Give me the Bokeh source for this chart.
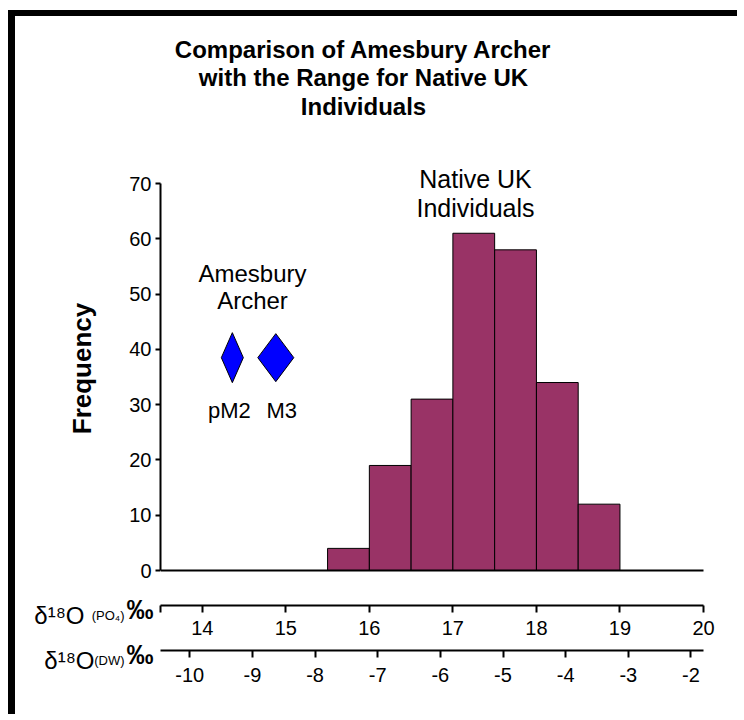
from bokeh.plotting import figure
from bokeh.models import Range1d, LinearAxis, FixedTicker, Label
from bokeh.core.properties import value
from bokeh.embed import file_html
from bokeh.resources import INLINE

# ---------------- data ----------------
bin_left = [15.5, 16.0, 16.5, 17.0, 17.5, 18.0, 18.5]
bin_right = [16.0, 16.5, 17.0, 17.5, 18.0, 18.5, 19.0]
frequency = [4, 19, 31, 61, 58, 34, 12]

tooth_names = ["pM2", "M3"]
tooth_po4 = [14.36, 14.88]
tooth_y = [38.5, 38.5]

po4_ticks = [14, 15, 16, 17, 18, 19, 20]
dw_ticks = [-10, -9, -8, -7, -6, -5, -4, -3, -2]
freq_ticks = [0, 10, 20, 30, 40, 50, 60, 70]

title_lines = ["Comparison of Amesbury Archer", "with the Range for Native UK", "Individuals"]
archer_lines = ["Amesbury", "Archer"]
native_lines = ["Native UK", "Individuals"]

# δ18O(PO4) = PO4_A + PO4_B * δ18O(DW)
PO4_A = 21.35
PO4_B = 0.75

# ---------------- layout / style ----------------
X0, X1 = 13.5, 20.0
Y0, Y1 = 0, 70
FONT = "Liberation Sans"
BAR_COLOR = "#993366"
DIAMOND_COLOR = "#0000FF"
tooth_label_dx = [-3, 6]     # horizontal nudge of the tooth names (px)

# frame geometry in page pixels (for annotation placement)
FL, FR, FT, FB = 160, 703, 183, 570
FRAME_TOP = 166          # frame extends a little above the 70 line


def dx(px):
    return X0 + (px - FL) * (X1 - X0) / (FR - FL)


def dy(py):
    return Y0 + (FB - py) * (Y1 - Y0) / (FB - FT)


W, H = 729, 704          # canvas (page offset 15, 16 because of the frame border)
p = figure(width=W, height=H, output_backend="svg", toolbar_location=None,
           x_range=Range1d(X0, X1), y_range=Range1d(Y0, dy(FRAME_TOP)),
           min_border_left=FL - 15, min_border_right=W - (FR - 15),
           min_border_top=FRAME_TOP - 16, min_border_bottom=H - (FB - 16))
p.margin = (10, 0, 0, 8)
p.styles = {"border-left": "7px solid black", "border-top": "6px solid black"}
p.outline_line_color = None
p.grid.visible = False
p.background_fill_color = "white"
p.border_fill_color = "white"

# ---------------- bars ----------------
p.quad(left=bin_left, right=bin_right, bottom=0, top=frequency,
       fill_color=BAR_COLOR, line_color="black", line_width=1)

# ---------------- diamonds ----------------
half_w_px = [11, 18]
half_h_px = [25, 24]
xs, ys = [], []
for cx, cy, hw, hh in zip(tooth_po4, tooth_y, half_w_px, half_h_px):
    w = hw * (X1 - X0) / (FR - FL)
    h = hh * (Y1 - Y0) / (FB - FT)
    xs.append([cx - w, cx, cx + w, cx])
    ys.append([cy, cy + h, cy, cy - h])
p.patches(xs, ys, fill_color=DIAMOND_COLOR, line_color="black", line_width=1)

p.text(x=tooth_po4, y=tooth_y, text=tooth_names, x_offset=tooth_label_dx, y_offset=53,
       text_align="center", text_baseline="middle",
       text_font=value(FONT), text_font_size="22px", text_color="black")

# ---------------- axes ----------------
yax = p.yaxis[0]
yax.bounds = (Y0, Y1)
yax.ticker = FixedTicker(ticks=freq_ticks)
yax.axis_label = "Frequency"
yax.axis_label_text_font = FONT
yax.axis_label_text_font_size = "26px"
yax.axis_label_text_font_style = "bold"
yax.axis_label_text_color = "black"
yax.axis_label_standoff = 29
yax.major_label_text_font = FONT
yax.major_label_text_font_size = "20px"
yax.major_label_text_color = "black"
yax.major_tick_in = 0
yax.major_tick_out = 5
yax.major_label_standoff = 4
yax.axis_line_width = 2
yax.major_tick_line_width = 2
yax.minor_tick_line_color = None


def spacer_axis(axis, gap):
    # reserves vertical space below the frame with one invisible tick
    axis.ticker = FixedTicker(ticks=[X0])
    axis.major_tick_in = 0
    axis.major_tick_out = gap
    axis.major_tick_line_color = "white"
    axis.major_tick_line_width = 1
    axis.major_label_text_color = None
    axis.major_label_standoff = 0
    axis.minor_tick_line_color = None
    return axis


xax = spacer_axis(p.xaxis[0], 35)
xax.axis_line_width = 2


def styled_axis(axis, standoff):
    axis.major_label_text_font = FONT
    axis.major_label_text_font_size = "20px"
    axis.major_label_text_color = "black"
    axis.major_tick_in = 0
    axis.major_tick_out = 7
    axis.major_label_standoff = standoff
    axis.axis_line_width = 2
    axis.major_tick_line_width = 2
    axis.minor_tick_line_color = None
    return axis


po4_axis = styled_axis(LinearAxis(ticker=FixedTicker(ticks=[X0] + po4_ticks),
                                  major_label_overrides={X0: ""}), 8)
p.add_layout(po4_axis, "below")

p.extra_x_ranges = {"dw": Range1d((X0 - PO4_A) / PO4_B, (X1 - PO4_A) / PO4_B)}

gap_axis = spacer_axis(LinearAxis(axis_line_color=None), 13)
p.add_layout(gap_axis, "below")

dw_axis = styled_axis(LinearAxis(x_range_name="dw", ticker=FixedTicker(ticks=dw_ticks),
                                 major_label_overrides={t: str(t) for t in dw_ticks}), 10)
p.add_layout(dw_axis, "below")


def lab(px, py, text, size, align="right", style="normal", baseline="alphabetic", **kw):
    return Label(x=dx(px), y=dy(py), text=text, text_align=align,
                 text_baseline=baseline, text_font=FONT, text_font_size=size,
                 text_font_style=style, text_color="black", **kw)


# axis name labels, left of the secondary axes (spread over the side panels)
p.add_layout(lab(84, 615, "δ¹⁸O", "24px"), "above")
p.add_layout(lab(94, 660, "δ¹⁸O", "24px"), "above")
p.add_layout(lab(124, 615, "(PO₄)", "13px"), "left")
p.add_layout(lab(124, 660, "(DW)", "13px"), "below")
p.add_layout(lab(153, 632, "‰\n‰", "27px", style="bold", baseline="middle",
                 text_line_height=1.49), "right")

# ---------------- titles / annotations ----------------
for line, py in zip(title_lines, [49, 77, 106]):
    p.add_layout(lab(363, py, line, "24px", align="center", style="bold",
                     baseline="middle"), "above")

for line, py in zip(archer_lines, [273, 300]):
    p.add_layout(lab(252, py, line, "24px", align="center", baseline="middle"))

for line, py in zip(native_lines, [178, 207]):
    p.add_layout(lab(475, py, line, "25px", align="center", baseline="middle"))

open("out.html", "w").write(file_html(p, INLINE))
